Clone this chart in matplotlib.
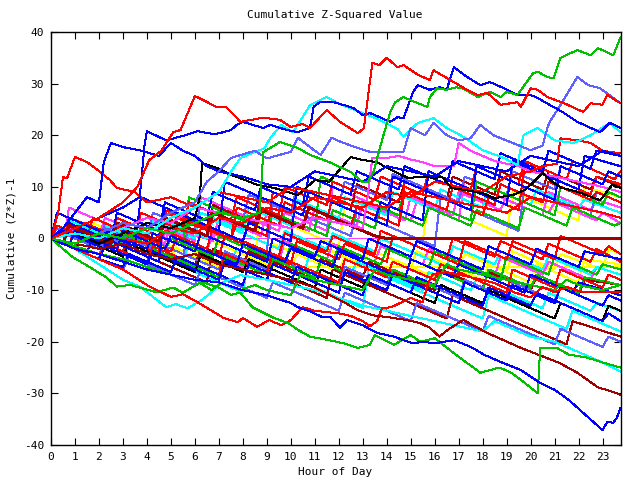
import matplotlib
matplotlib.use("Agg")
import matplotlib.pyplot as plt

# ---------------- data: (hour, cumulative value) knots ----------------
xticks = list(range(24))
yticks = [-40, -30, -20, -10, 0, 10, 20, 30, 40]

title = "Cumulative Z-Squared Value"
xlabel = "Hour of Day"
ylabel = "Cumulative (Z*Z)-1"

red_peak = [(0,0),(1,2),(2,4),(3,7),(3.6,10),(4.1,15.2),(4.6,17),(5.1,20.6),(5.4,21),(5.7,24.3),
            (6,27.6),(6.35,26.8),(6.9,25.5),(7.3,25.5),(7.9,22.6),(8.85,23.4),(9.55,23),(10,21.6),
            (10.5,22.2),(10.8,21.4),(11.5,24.9),(12.05,22.6),(12.8,20.4),(13.05,21.4),(13.4,34),
            (13.7,33.6),(14,35),(14.45,33.2),(14.7,33.6),(15.3,31.7),(15.8,30.7),(15.95,32.6),
            (16.5,31.1),(17.35,28.8),(17.8,27.8),(18.2,28.2),(18.75,25.9),(19.45,26.4),(19.6,25.5),
            (20,29.1),(20.3,28.8),(20.7,27.4),(21.4,26.2),(22.2,24.5),(22.5,26.2),(23,25.9),
            (23.2,27.8),(23.75,26.2)]
green_top = [(0,0),(1,-1),(2,1),(3,0),(4,2),(5,1),(6,3),(7,5),(8,4),(8.7,5),(8.85,16.7),(9.55,18.7),
             (10.3,17.5),(10.8,16.2),(11.6,14.8),(12.5,12.9),(13,10.9),(13.2,10.9),(13.45,12.9),
             (13.6,15.6),(13.9,20.6),(14.15,24.5),(14.35,26.4),(14.7,27.4),(15.3,26.2),(15.7,25.5),
             (15.8,27.4),(16.1,29.1),(16.5,28.8),(16.9,29.3),(17.2,29),(17.8,27.4),(18.3,28.4),
             (18.75,27.4),(19,28.4),(19.45,27.8),(20.1,32),(20.3,32.3),(20.7,31.3),(20.95,31),
             (21.25,35),(21.95,36.5),(22.5,35.5),(22.8,36.9),(23.45,35.5),(23.75,39)]
blue_top = [(0,0),(1,2),(2,4),(3,6),(3.7,8),(3.9,18),(4,20.8),(4.8,19),(5.6,20),(6.1,20.8),
            (6.8,20.2),(7.2,20.6),(7.5,21),(7.75,22),(8,22.6),(8.85,21.4),(9.15,22),(9.85,21),
            (10.3,20.6),(10.8,21.4),(10.95,25.5),(11.2,26.4),(11.8,26.4),(12.6,25.3),(13,23.9),
            (13.3,24.3),(13.7,23.5),(14.15,22.6),(14.45,23.5),(14.7,23.3),(15.1,28.4),(15.3,29.7),
            (15.8,28.8),(16.2,29.3),(16.5,28.8),(16.8,33.2),(17.35,31.3),(17.9,29.7),(18.3,30.3),
            (18.9,29.1),(19.45,27.8),(20,27.8),(20.3,27.2),(21.4,24.3),(21.95,22.6),(22.9,20.6),
            (23.3,22.4),(23.75,21.4)]
slate_top = [(0,0),(1,-1),(2,1),(3,3),(4,2),(5,5),(6,7),(6.5,11),(7,13),(7.5,15.6),(8.5,17),
             (9,15.5),(10,16.8),(10.3,19.5),(11,17),(11.25,16.2),(11.7,19.5),(12.1,18.7),
             (12.8,17.5),(13.3,16.8),(14.7,16.8),(15,21.4),(15.6,20),(15.95,22.4),(16.5,20),
             (17,19),(17.5,19.4),(17.9,22),(18.45,20),(19.15,18.7),(20,17.1),(20.5,18),
             (20.7,21.4),(20.8,22.6),(21.25,25.9),(21.95,31.3),(22.4,29.7),(22.9,29.1),(23.75,26.2)]
cyan_top = [(0,0),(1,1),(2,0),(3,2),(4,1),(5,4),(6,6),(7,9),(7.5,12.9),(7.9,15.6),(8.9,17.5),
            (9.15,19.5),(9.6,22),(10.1,20.6),(10.8,25.8),(11.5,27.4),(12.05,26),(13,24.3),
            (13.6,23.2),(14.45,21.2),(14.7,19.7),(15.3,22.4),(15.95,23.3),(16.5,21.4),(17.2,19.7),
            (18,17.1),(18.9,15.6),(19.45,14.2),(19.7,20),(20.3,21.4),(21,19),(21.8,18.5),
            (22.5,20),(23.3,22.4),(23.75,20.6)]
blue_upper = [(0,0),(0.5,2),(1,5),(1.5,8),(2,7),(2.2,14.8),(2.5,18.5),(3,17.7),(3.7,17.1),
              (4.5,16),(5,18.5),(5.5,17),(6,16),(6.5,14),(7,13),(8,12),(9,10.5),(10,10),(11,13),
              (12,12),(13,11),(14,14),(15,13),(16,12),(17,15),(18,14),(19,13),(20,16),(21,15),
              (22,14),(23,17),(23.75,16)]
red_early = [(0,0),(0.3,5),(0.5,11.9),(0.67,11.7),(1,15.8),(1.5,14.8),(2.05,12.9),(2.46,11.3),
             (2.75,9.8),(3.5,9),(4,7),(5,8),(6,6),(7,9),(8,8),(9,7),(10,10),(11,9),(12,8),(13,7),
             (14,6),(15,9),(16,8),(17,7),(18,6),(19,5),(20,8),(21,7),(22,6),(23,5),(23.75,4)]
black_top = [(0,0),(1,1),(2,-1),(3,1),(4,3),(5,2),(6,4),(6.2,7.8),(6.3,14.6),(7,13.5),(7.5,12.3),
             (8,11.5),(8.6,10.4),(9.3,9.8),(10.3,8.4),(11,11.3),(11.6,11),(12.5,15.8),(13,15.2),
             (13.6,14.8),(14,13.7),(14.9,11.7),(15.5,12),(16,11.7),(16.3,12),(16.7,9.8),(18,8.8),
             (18.5,7.8),(19.3,8.5),(19.8,9.5),(20.5,12.7),(20.9,11),(21.3,9.8),(22,9),(22.9,7.4),
             (23.4,10.4),(23.75,9.8)]
magenta_up = [(0,0),(1,1),(2,0),(3,2),(4,4),(5,3),(6,6),(7,5),(8,4),(9,3),(10,2),(11,4),(12,3),
              (13,2),(13.2,8),(13.4,15.6),(14,15.6),(14.5,16),(15,15.3),(15.5,14.8),(16,14),
              (16.8,14),(17,18.5),(17.5,17),(18.5,15),(19.5,14),(20,13),(21,12),(22,11),(23,10),
              (23.75,9)]
red_right = [(0,0),(1,-1),(2,1),(3,0),(4,-1),(5,2),(6,1),(7,4),(8,3),(9,6),(10,5),(11,8),(12,7),
             (13,6),(14,9),(15,8),(16,11),(17,10),(18,9),(19,12),(20,13),(20.5,14),(21.1,14.5),
             (21.25,19.4),(22,19),(22.5,18.5),(23,17),(23.75,16.5)]
blue_low = [(0,0),(1,-2),(2,-3),(3,-4.5),(4,-6),(5,-7),(6,-8),(7,-8.5),(8,-10),(9,-11),(10,-12.5),
            (10.3,-13.3),(10.85,-14.2),(11.3,-15.2),(11.65,-15.2),(12.05,-17.3),(12.35,-15.8),
            (13,-16.8),(13.6,-18.3),(14.3,-19),(14.7,-19.7),(15.1,-20.3),(15.5,-20),(16,-20.3),
            (16.8,-19.7),(17.5,-21),(18.1,-22.6),(18.8,-24),(19.6,-25.5),(20.4,-28),(21,-29.3),
            (21.6,-31.3),(22.2,-33.8),(23,-37.1),(23.2,-35.5),(23.45,-35.7),(23.6,-34.7),
            (23.75,-32.8)]
green_low = [(0,0),(1,-1.5),(2,-3),(3,-4),(4,-5.5),(5,-7),(6,-8),(7,-9.5),(7.5,-10.9),(7.9,-10.5),
             (8.4,-13.3),(9.3,-15.4),(9.9,-16.4),(10.3,-17.7),(10.8,-19),(11.6,-19.7),(12.2,-20.3),
             (12.8,-21.2),(13.3,-20.6),(13.5,-18.7),(14.3,-20.6),(15,-18.7),(15.4,-20),(16,-19.3),
             (16.8,-22.2),(17.9,-26),(18.7,-25),(19.2,-26),(19.6,-27.4),(20.3,-30),(20.4,-21.2),
             (21.1,-21.2),(21.6,-22.5),(22.3,-23),(23,-24),(23.75,-25)]
green_low2 = [(0,0),(0.9,-3.6),(1.6,-5.5),(2.3,-7.5),(2.75,-9.3),(3.3,-9),(4.4,-10.4),(5.1,-9.5),
              (5.5,-10.5),(6.2,-8.6),(6.7,-10),(7.1,-8.6),(7.9,-10),(8.5,-9),(9,-10),(10,-11),
              (10.4,-7),(11,-8),(12,-9),(13,-10),(13.5,-6),(14,-7),(15,-8),(16,-9),(16.5,-5),
              (17,-6),(18,-7),(19,-8),(20,-9),(21,-10),(21.5,-8),(22,-9),(23,-10),(23.75,-9)]
darkred_low = [(0,0),(1,-1),(2,-2),(3,-1),(4,-3),(5,-4),(6,-3),(7,-5),(8,-6),(9,-7),(10,-8),
               (11,-9.5),(11.65,-11),(12.2,-12.3),(12.8,-13.9),(13.45,-14.9),(14,-15.2),
               (14.85,-15.8),(15.4,-16.4),(15.8,-17.3),(16.2,-19),(16.6,-17.5),(17.2,-15.8),
               (18.2,-18.3),(19.6,-21.2),(21.2,-24.1),(21.95,-26),(22.8,-28.8),(23.55,-29.9),
               (23.75,-30.3)]
red_flat10 = [(0,0),(1,-2),(2,-4),(3,-6),(4.1,-9.3),(5,-11.3),(5.5,-10.8),(6.1,-12.3),(7.2,-15.4),
              (7.8,-16.2),(8,-15.4),(8.6,-17.1),(9.1,-15.8),(9.6,-16.8),(10,-15.8),(10.5,-13.3),
              (11,-14),(12,-14.5),(12.5,-15),(13,-16),(13.3,-17),(13.6,-16),(13.8,-13.5),
              (14.2,-13.3),(15,-11.5),(15.5,-12.4),(15.7,-9),(15.9,-7),(16.5,-6.5),(17.5,-7.5),
              (18.5,-8.6),(19.3,-10.4),(20,-11.4),(20.5,-9.4),(21,-10.4),(21.5,-9.4),(22.2,-10.4),
              (23.75,-10.4)]
cyan_low = [(0,0),(1,-2),(2,-5),(3,-8),(3.7,-9.3),(4.8,-13.3),(5.2,-12.7),(5.7,-13.5),(6.3,-11.9),
            (6.8,-10),(7.1,-8.6),(7.9,-7.1),(9,-8),(10,-9),(11,-10),(12,-11.5),(13,-13),(14,-14),
            (15,-15),(16,-16),(17,-17),(18,-18),(18.5,-16),(19,-17),(20,-19),(21,-20),(22,-22),
            (23,-24),(23.75,-25.8)]

# middle paths
red_mid = [
    [(0,0),(0.5,-1),(0.75,4),(2.5,1),(3.5,-1),(4.5,-3),(4.75,5),(6,2.5),(7.5,0),(7.75,3),(9,0.5),(9.25,9),(11,5.5),(12.5,2.5),(12.75,6),(14.5,2.5),(14.75,11),(16.5,7.5),(18,4.5),(18.25,8),(19.5,5.5),(19.75,14),(21.5,10.5),(22.5,8.5),(22.75,12),(23.75,10.5)],
    [(0,0),(0.75,-1.5),(1,2),(2.5,-1),(2.75,2.5),(4.5,-1),(4.75,1.5),(6.5,-2),(6.75,2),(8.5,-1.5),(9.5,-3.5),(9.75,1),(11.5,-2.5),(11.75,0.5),(13.5,-3),(13.75,1.5),(15.5,-2),(16.5,-4),(16.75,0),(18.5,-3.5),(18.75,-0.5),(20.5,-4),(20.75,-1),(22.5,-4.5),(22.75,-2),(23.75,-4.5)],
    [(0,0),(0.25,2.5),(1.5,0),(1.75,4),(3.5,0.5),(3.75,5),(5.5,1.5),(5.75,7),(7.5,3.5),(7.75,8),(9.5,4.5),(9.75,10),(11.5,6.5),(11.75,11),(13.5,7.5),(13.75,12),(15.5,8.5),(15.75,13),(17.5,9.5),(17.75,14),(19.5,10.5),(19.75,15),(21.5,11.5),(21.75,15),(23.5,11.5),(23.75,13)],
    [(0,0),(1,-2),(1.25,1),(3,-2.5),(3.25,1),(5,-2.5),(5.25,0),(7,-3.5),(7.25,0.5),(9,-3),(10,-5),(10.25,-0.5),(12,-4),(12.25,-1),(14,-4.5),(14.25,0.5),(16,-3),(17,-5),(17.25,-0.5),(19,-4),(19.25,-0.5),(21,-4),(21.25,0.5),(23,-3),(23.25,-1.5),(23.75,-3)],
    [(0,0),(0.5,-1),(0.75,3),(2.5,-0.5),(2.75,4),(4.5,0.5),(4.75,5.5),(6.5,2),(7.5,0),(7.75,6),(9.5,2.5),(9.75,7),(11.5,3.5),(11.75,8),(13.5,4.5),(14.5,2.5),(14.75,9),(16.5,5.5),(16.75,10),(18.5,6.5),(18.75,10.5),(20.5,7),(20.75,11),(22.5,7.5),(22.75,9),(23.75,7)],
    [(0,0),(1,-2),(2,-4),(2.25,-1),(4,-4.5),(4.25,-1.5),(6,-5),(7,-7),(7.25,-3),(9,-6.5),(9.25,-3),(11,-6.5),(12,-8.5),(12.25,-4),(14,-7.5),(14.25,-4.5),(16,-8),(16.25,-5),(18,-8.5),(19,-10.5),(19.25,-6),(21,-9.5),(21.25,-6),(23,-9.5),(23.25,-7),(23.75,-8)],
]
green_mid = [
    [(0,0),(1,-2),(2,-4),(2.25,-1.5),(4,-5),(4.25,-2),(6,-5.5),(7,-7.5),(7.25,-3.5),(9,-7),(9.25,-4),(11,-7.5),(11.25,-4.5),(13,-8),(14,-10),(14.25,-6),(16,-9.5),(16.25,-6.5),(18,-10),(18.25,-6),(20,-9.5),(20.25,-7),(22,-10.5),(22.25,-7.5),(23.75,-9)],
    [(0,0),(0.5,-1),(0.75,2.5),(2.5,-1),(2.75,3),(4.5,-0.5),(4.75,4),(6.5,0.5),(6.75,5),(8.5,1.5),(8.75,6),(10.5,2.5),(11.5,0.5),(11.75,5.5),(13.5,2),(13.75,6),(15.5,2.5),(15.75,6),(17.5,2.5),(17.75,5.5),(19.5,2),(19.75,6),(21.5,2.5),(21.75,6),(23.5,2.5),(23.75,3)],
    [(0,0),(0.75,-1.5),(1,1.5),(2.75,-2),(3,1),(4.75,-2.5),(5,0),(6.75,-3.5),(7,0.5),(8.75,-3),(9.75,-5),(10,-1),(11.75,-4.5),(12,-1.5),(13.75,-5),(14,-2),(15.75,-5.5),(16,-2.5),(17.75,-6),(18.75,-8),(19,-3.5),(20.75,-7),(21,-3.5),(22.75,-7),(23,-5),(23.75,-6)],
    [(0,0),(0.25,5),(2,1.5),(3.5,-1.5),(3.75,2),(5.5,-1.5),(5.75,8),(7.5,4.5),(9,1.5),(9.25,5),(11,1.5),(11.25,12),(13,8.5),(14.5,5.5),(14.75,9),(16.5,5.5),(17.5,3.5),(17.75,11),(19.5,7.5),(21,4.5),(21.25,10),(23,6.5),(23.25,9),(23.75,8)],
]
blue_mid = [
    [(0,0),(0.5,-1),(0.75,3),(2.5,-0.5),(2.75,5),(4.5,1.5),(4.75,7),(6.5,3.5),(6.75,9),(8.5,5.5),(8.75,10),(10.5,6.5),(10.75,12),(12.5,8.5),(12.75,13),(14.5,9.5),(14.75,14),(16.5,10.5),(16.75,15),(18.5,11.5),(18.75,16.5),(20.5,13),(20.75,17),(22.5,13.5),(22.75,17),(23.75,16)],
    [(0,0),(1.5,-3),(1.75,1),(3.5,-2.5),(4.5,-4.5),(4.75,6),(6.5,2.5),(8,-0.5),(8.25,3),(10,-0.5),(10.25,10),(12,6.5),(13.5,3.5),(13.75,7),(15.5,3.5),(15.75,13),(17.5,9.5),(19,6.5),(19.25,15),(21,11.5),(22,9.5),(22.25,16),(23.75,14)],
    [(0,0),(1,-2),(2,-4),(2.25,-1.5),(4,-5),(4.25,-2.5),(6,-6),(7,-8),(7.25,-4.5),(9,-8),(9.25,-5),(11,-8.5),(12,-10.5),(12.25,-6.5),(14,-10),(14.25,-7),(16,-10.5),(17,-12.5),(17.25,-8.5),(19,-12),(19.25,-9),(21,-12.5),(21.25,-9.5),(23,-13),(23.25,-11),(23.75,-12)],
    [(0,0),(0.75,-1.5),(1,1.5),(2.75,-2),(3,1.5),(4.75,-2),(5,0.5),(6.75,-3),(7.75,-5),(8,-1),(9.75,-4.5),(10,-2),(11.75,-5.5),(12,-2.5),(13.75,-6),(14.75,-8),(15,-4),(16.75,-7.5),(17,-5),(18.75,-8.5),(19.75,-10.5),(20,-7),(21.75,-10.5),(22,-8.5),(23.75,-11)],
    [(0,0),(0.5,1.5),(2,-1.5),(2.25,1.5),(4,-2),(4.25,1),(6,-2.5),(6.25,1),(8,-2.5),(9,-4.5),(9.25,0),(11,-3.5),(11.25,-0.5),(13,-4),(13.25,0),(15,-3.5),(15.25,-0.5),(17,-4),(18,-6),(18.25,-1.5),(20,-5),(20.25,-2),(22,-5.5),(22.25,-2.5),(23.75,-4)],
    [(0,0),(1,-2),(2,-4),(3,-5.5),(3.25,-3),(5,-6.5),(5.25,-3.5),(7,-7),(8,-9),(8.25,-5),(10,-8.5),(10.25,-5.5),(12,-9),(13,-11),(13.25,-7),(15,-10.5),(15.25,-7.5),(17,-11),(18,-13),(18.25,-9.5),(20,-13),(20.25,-10.5),(22,-14),(23,-16),(23.25,-14.5),(23.75,-16)],
    [(0,0),(0.25,5),(2,1.5),(3.5,-1.5),(3.75,8),(5.5,4.5),(7,1.5),(7.25,11),(9,7.5),(10.5,4.5),(10.75,9),(12.5,5.5),(14,2.5),(14.25,12),(16,8.5),(17.5,5.5),(17.75,14),(19.5,10.5),(21,7.5),(21.25,14),(23,10.5),(23.25,13),(23.75,12)],
]
slate_mid = [
    [(0,0),(2,-4),(2.25,2),(4,-1.5),(5.5,-4.5),(5.75,4),(7.5,0.5),(9,-2.5),(9.25,7),(11,3.5),(12.5,0.5),(12.75,5),(14.5,1.5),(16,-1.5),(16.25,8),(18,4.5),(19.5,1.5),(19.75,10),(21.5,6.5),(22.5,4.5),(22.75,9),(23.75,7)],
    [(0,0),(1,-2),(2,-4),(3,-6),(3.25,-3.5),(5,-7),(6,-9),(6.25,-6),(8,-9.5),(9,-11.5),(9.25,-8.5),(11,-12),(12,-14),(12.25,-10.5),(14,-14),(15,-16),(15.25,-12.5),(17,-16),(18,-18),(18.25,-15),(20,-18.5),(21,-20.5),(21.25,-17.5),(23,-21),(23.25,-19),(23.75,-20)],
    [(0,0),(0.5,1),(2,-2),(2.25,0.5),(4,-3),(4.25,-0.5),(6,-4),(7,-6),(7.25,-2.5),(9,-6),(9.25,-3.5),(11,-7),(12,-9),(12.25,-5.5),(14,-9),(14.25,-6),(16,-9.5),(17,-11.5),(17.25,-8),(19,-11.5),(19.25,-8.5),(21,-12),(21.25,-9.5),(23,-13),(23.25,-11),(23.75,-12)],
    [(0,0),(0.25,2),(2,-1.5),(2.25,3),(4,-0.5),(4.25,5),(6,1.5),(6.25,7),(8,3.5),(8.25,8.5),(10,5),(10.25,10),(12,6.5),(12.25,11),(14,7.5),(14.25,12.5),(16,9),(17,7),(17.25,12),(19,8.5),(19.25,13),(21,9.5),(21.25,14),(23,10.5),(23.25,13),(23.75,12)],
]
magenta_mid = [
    [(0,0),(0.5,1),(0.75,3),(2,0.5),(2.25,4),(4,0.5),(4.25,4),(6,0.5),(6.5,0),(23.75,0)],
    [(0,0),(0.5,-1),(0.75,2),(2.5,-1.5),(2.75,2),(4.5,-1.5),(4.75,1),(6.5,-2.5),(6.75,1),(8.5,-2.5),(9.5,-4.5),(9.75,-0.5),(11.5,-4),(11.75,-1),(13.5,-4.5),(13.75,-1.5),(15.5,-5),(15.75,-2),(17.5,-5.5),(18.5,-7.5),(18.75,-3.5),(20.5,-7),(20.75,-4.5),(22.5,-8),(22.75,-5.5),(23.75,-7)],
    [(0,0),(0.5,-1),(0.75,6),(2.5,2.5),(4,-0.5),(4.25,3),(6,-0.5),(6.25,8),(8,4.5),(9.5,1.5),(9.75,5),(11.5,1.5),(11.75,10),(13.5,6.5),(15,3.5),(15.25,7),(17,3.5),(17.25,11),(19,7.5),(20.5,4.5),(20.75,9),(22.5,5.5),(22.75,7.5),(23.75,6)],
    [(0,0),(1,-2),(1.25,0.5),(3,-3),(3.25,-0.5),(5,-4),(6,-6),(6.25,-2),(8,-5.5),(8.25,-2.5),(10,-6),(11,-8),(11.25,-4),(13,-7.5),(13.25,-4.5),(15,-8),(16,-10),(16.25,-6),(18,-9.5),(18.25,-6.5),(20,-10),(20.25,-7),(22,-10.5),(22.25,-8),(23.75,-9)],
    [(0,0),(0.75,-1.5),(1,2),(2.75,-1.5),(3,2.5),(4.75,-1),(5,3),(6.75,-0.5),(7,4),(8.75,0.5),(9,5),(10.75,1.5),(11,6),(12.75,2.5),(13,7),(14.75,3.5),(15,8),(16.75,4.5),(17,9),(18.75,5.5),(19,8.5),(20.75,5),(21,7),(22.75,3.5),(23,5),(23.75,3)],
]
cyan_mid = [
    [(0,0),(1.5,-3),(3,-6),(3.25,-1),(5,-4.5),(6.5,-7.5),(8,-10.5),(8.25,-4),(10,-7.5),(11.5,-10.5),(13,-13.5),(13.25,-6),(15,-9.5),(16.5,-12.5),(18,-15.5),(18.25,-11),(20,-14.5),(21.5,-17.5),(21.75,-14),(23.75,-18)],
    [(0,0),(0.5,1.5),(2,-1.5),(2.25,2.5),(4,-1),(4.25,3.5),(6,0),(6.25,5),(8,1.5),(8.25,6),(10,2.5),(10.25,7.5),(12,4),(12.25,8),(14,4.5),(14.25,9),(16,5.5),(16.25,9.5),(18,6),(18.25,10),(20,6.5),(20.25,9.5),(22,6),(22.25,7.5),(23.75,5)],
    [(0,0),(0.5,-1),(0.75,1.5),(2.5,-2),(2.75,1),(4.5,-2.5),(5.5,-4.5),(5.75,-1),(7.5,-4.5),(7.75,-2),(9.5,-5.5),(10.5,-7.5),(10.75,-3.5),(12.5,-7),(12.75,-4.5),(14.5,-8),(15.5,-10),(15.75,-6.5),(17.5,-10),(17.75,-8),(19.5,-11.5),(20.5,-13.5),(20.75,-10.5),(22.5,-14),(22.75,-12.5),(23.75,-14)],
    [(0,0),(0.5,1),(0.75,3.5),(2.5,0),(2.75,4),(4.5,0.5),(4.75,3.5),(6.5,0),(6.75,3.5),(8.5,0),(9.5,-2),(9.75,1.5),(11.5,-2),(11.75,1),(13.5,-2.5),(13.75,0),(15.5,-3.5),(16.5,-5.5),(16.75,-1.5),(18.5,-5),(18.75,-2.5),(20.5,-6),(20.75,-3.5),(22.5,-7),(22.75,-5.5),(23.75,-7)],
]
darkred_mid = [
    [(0,0),(0.5,-1),(0.75,2.5),(2.5,-1),(2.75,4),(4.5,0.5),(4.75,5.5),(6.5,2),(6.75,6.5),(8.5,3),(8.75,8),(10.5,4.5),(10.75,9),(12.5,5.5),(12.75,10.5),(14.5,7),(14.75,11),(16.5,7.5),(16.75,12),(18.5,8.5),(18.75,13),(20.5,9.5),(20.75,13),(22.5,9.5),(22.75,12),(23.75,10)],
    [(0,0),(1,-2),(1.25,1),(3,-2.5),(3.25,0),(5,-3.5),(6,-5.5),(6.25,-1.5),(8,-5),(8.25,-2.5),(10,-6),(11,-8),(11.25,-4),(13,-7.5),(13.25,-4.5),(15,-8),(16,-10),(16.25,-6),(18,-9.5),(18.25,-6.5),(20,-10),(20.25,-7.5),(22,-11),(22.25,-8),(23.75,-9)],
    [(0,0),(1.5,-3),(1.75,1),(3.5,-2.5),(5,-5.5),(6.5,-8.5),(6.75,-2),(8.5,-5.5),(10,-8.5),(11.5,-11.5),(11.75,-6),(13.5,-9.5),(15,-12.5),(16.5,-15.5),(16.75,-11),(18.5,-14.5),(20,-17.5),(21.5,-20.5),(21.75,-16),(23.75,-19)],
]
darkred_flat0 = [(0,0),(0.5,-1),(0.75,2.5),(2.5,-1),(2.75,3),(4.5,-0.5),(4.75,4),(6.5,0.5),(6.75,5),(8.5,1.5),(8.75,5.5),(10.5,2),(10.75,6),(12.5,2.5),(13.5,0.5),(14,0),(23.75,0)]
yellow_mid = [
    [(0,0),(0.5,-1),(0.75,1.5),(2.5,-2),(2.75,0.5),(4.5,-3),(4.75,-1),(6.5,-4.5),(7,-5.5),(23.75,-5.5)],
    [(0,0),(0.5,1),(2,-2),(2.25,1.5),(4,-2),(4.25,1),(6,-2.5),(6.25,0.5),(8,-3),(9,-5),(9.25,-1),(11,-4.5),(11.25,-1.5),(13,-5),(13.25,-2),(15,-5.5),(15.25,-2.5),(17,-6),(17.25,-3),(19,-6.5),(19.25,-2.5),(21,-6),(21.25,-3),(23,-6),(23.25,-2),(23.75,-3)],
    [(0,0),(1.5,-3),(1.75,3),(3.5,-0.5),(5,-3.5),(5.25,3),(7,-0.5),(8.5,-3.5),(8.75,5),(10.5,1.5),(12,-1.5),(12.25,6),(14,2.5),(15.5,-0.5),(15.75,7),(17.5,3.5),(19,0.5),(19.25,9),(21,5.5),(22,3.5),(22.25,10),(23.75,8)],
    [(0,0),(1,-2),(1.25,0.5),(3,-3),(3.25,-0.5),(5,-4),(5.25,-1),(7,-4.5),(8,-6.5),(8.25,-2.5),(10,-6),(10.25,-3),(12,-6.5),(12.25,-3.5),(14,-7),(14.25,-4),(16,-7.5),(16.25,-4.5),(18,-8),(18.25,-5),(20,-8.5),(20.25,-5),(22,-8.5),(22.25,-4),(23.75,-5)],
]
black_mid = [
    [(0,0),(1,-2),(1.25,0),(3,-3.5),(3.25,-1),(5,-4.5),(6,-6.5),(6.25,-3),(8,-6.5),(8.25,-4),(10,-7.5),(11,-9.5),(11.25,-6),(13,-9.5),(13.25,-7),(15,-10.5),(16,-12.5),(16.25,-9),(18,-12.5),(18.25,-10),(20,-13.5),(21,-15.5),(21.25,-12.5),(23,-16),(23.25,-13),(23.75,-14)],
]

# ---------------- style ----------------
C = {"red": "#ff0000", "green": "#00c000", "blue": "#0000ff", "slate": "#6060ff",
     "magenta": "#ff40ff", "cyan": "#00ffff", "darkred": "#a00000", "yellow": "#ffff00",
     "black": "#000000"}

plt.rcParams["font.family"] = ["DejaVu Sans Mono"]
fig = plt.figure(figsize=(6.4, 4.8), dpi=100)
ax = fig.add_axes([51 / 640, 35 / 480, 569.5 / 640, 413 / 480])

LW = 0.72


def draw(pts, cname, lw=LW):
    xs = [p[0] for p in pts]
    ys = [p[1] for p in pts]
    ax.plot(xs, ys, color=C[cname], lw=lw, antialiased=False)


for cname, group in [("yellow", yellow_mid), ("magenta", magenta_mid), ("cyan", cyan_mid),
                     ("darkred", darkred_mid), ("slate", slate_mid), ("green", green_mid),
                     ("black", black_mid), ("red", red_mid), ("blue", blue_mid)]:
    for pts in group:
        draw(pts, cname)
draw(darkred_flat0, "darkred", lw=1.44)

for cname, pts in [("cyan", cyan_low), ("green", green_low2), ("red", red_flat10),
                   ("darkred", darkred_low), ("green", green_low), ("blue", blue_low),
                   ("magenta", magenta_up), ("red", red_right), ("black", black_top),
                   ("red", red_early), ("blue", blue_upper), ("cyan", cyan_top),
                   ("slate", slate_top), ("blue", blue_top), ("green", green_top),
                   ("red", red_peak)]:
    draw(pts, cname)

ax.set_xlim(0, 23.75)
ax.set_ylim(-40, 40)
ax.set_xticks(xticks)
ax.set_xticklabels([str(t) for t in xticks])
ax.set_yticks(yticks)
ax.set_yticklabels([str(t) for t in yticks])
ax.tick_params(direction="in", length=5, width=0.8, top=True, right=True,
               labelsize=8, pad=5, colors="black")
for s in ax.spines.values():
    s.set_linewidth(1.0)

fig.text(335 / 640, 1 - 15 / 480, title, ha="center", va="center", fontsize=8)
fig.text(335 / 640, 1 - 472 / 480, xlabel, ha="center", va="center", fontsize=8)
fig.text(12 / 640, 1 - 238 / 480, ylabel, ha="center", va="center", fontsize=8, rotation=90)

fig.savefig("out.png", dpi=100)
